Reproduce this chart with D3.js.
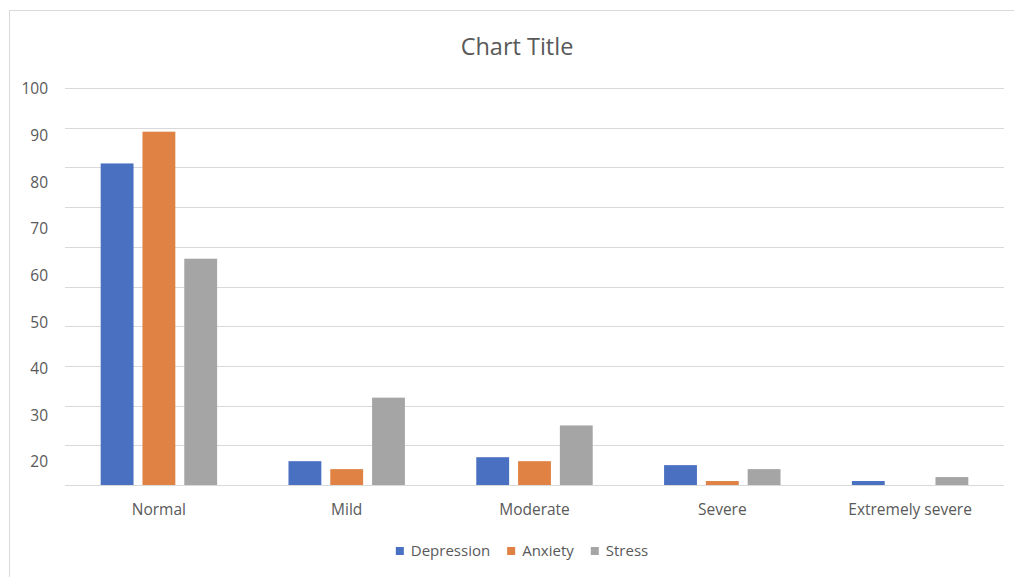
<!DOCTYPE html>
<html>
<head>
<meta charset="utf-8">
<script src="https://cdn.jsdelivr.net/npm/d3@7"></script>
<style>
  html, body { margin: 0; padding: 0; background: #fff; }
  svg { display: block; }
  text { font-family: "Open Sans", "Liberation Sans", sans-serif; fill: #595959; }
</style>
</head>
<body>
<svg id="chart" width="1014" height="577"></svg>
<script>
const categories = ["Normal", "Mild", "Moderate", "Severe", "Extremely severe"];
const seriesNames = ["Depression", "Anxiety", "Stress"];
const depression = [81, 6, 7, 5, 1];
const anxiety = [89, 4, 6, 1, 0];
const stress = [57, 22, 15, 4, 2];
const gridTicks = [0, 10, 20, 30, 40, 50, 60, 70, 80, 90, 100];
const tickLabels = [20, 30, 40, 50, 60, 70, 80, 90, 100];
const colors = ["#4A70C2", "#E08243", "#A5A5A5"];

const seriesValues = [depression, anxiety, stress];
const svg = d3.select("#chart");

// frame
svg.append("line").attr("x1", 9).attr("x2", 1014).attr("y1", 10.5).attr("y2", 10.5)
  .attr("stroke", "#D9D9D9").attr("stroke-width", 1);
svg.append("line").attr("x1", 9.5).attr("x2", 9.5).attr("y1", 10).attr("y2", 577)
  .attr("stroke", "#D9D9D9").attr("stroke-width", 1);

const plotLeft = 65, plotRight = 1004, plotTop = 88, plotBottom = 485;

const x = d3.scaleBand().domain(categories).range([plotLeft, plotRight]).padding(0);
const y = d3.scaleLinear().domain([0, 100]).range([plotBottom, plotTop]);
const yLabel = d3.scaleLinear().domain([20, 100]).range([462, 89]);

const bw = x.bandwidth();
const inner = d3.scaleBand().domain(seriesNames)
  .range([bw * 0.19, bw * 0.81]).paddingInner(0.214).paddingOuter(0);

// gridlines
svg.append("g").selectAll("line").data(gridTicks).join("line")
  .attr("x1", plotLeft).attr("x2", plotRight)
  .attr("y1", d => Math.round(y(d)) + 0.5).attr("y2", d => Math.round(y(d)) + 0.5)
  .attr("stroke", "#D9D9D9").attr("stroke-width", 1.2);

// y tick labels
const yAxis = svg.append("g").attr("transform", "translate(48,0)")
  .call(d3.axisLeft(yLabel).tickValues(tickLabels).tickSize(0).tickPadding(0));
yAxis.select(".domain").remove();
yAxis.selectAll("text").style("font-size", "15.5px").attr("fill", "#595959")
  .style("font-family", "\"Open Sans\", sans-serif");

// bars
const rows = [];
categories.forEach((c, i) => seriesNames.forEach((s, j) => rows.push({c, s, j, v: seriesValues[j][i]})));
svg.append("g").selectAll("rect").data(rows.filter(d => d.v > 0)).join("rect")
  .attr("x", d => x(d.c) + inner(d.s))
  .attr("width", inner.bandwidth())
  .attr("y", d => y(d.v))
  .attr("height", d => y(0) - y(d.v))
  .attr("fill", d => colors[d.j]);

// x labels
const xAxis = svg.append("g").attr("transform", `translate(0,${plotBottom})`)
  .call(d3.axisBottom(x).tickSize(0).tickPadding(19));
xAxis.select(".domain").remove();
xAxis.selectAll("text").style("font-size", "15.5px").attr("fill", "#595959")
  .style("font-family", "\"Open Sans\", sans-serif");

// title
svg.append("text").attr("x", 517).attr("y", 55).attr("text-anchor", "middle")
  .style("font-size", "23.5px").text("Chart Title");

// legend
const legend = svg.append("g");
let cx = 0;
seriesNames.forEach((s, j) => {
  const g = legend.append("g");
  g.append("rect").attr("x", 0).attr("y", -4).attr("width", 8).attr("height", 8).attr("fill", colors[j]);
  const t = g.append("text").attr("x", 15).attr("y", 0).attr("dy", "0.35em")
    .style("font-size", "15px").text(s);
  const w = 15 + t.node().getComputedTextLength();
  g.attr("transform", `translate(${cx},0)`);
  cx += w + 17;
});
const totalW = cx - 17;
legend.attr("transform", `translate(${522 - totalW / 2},551)`);
</script>
</body>
</html>
